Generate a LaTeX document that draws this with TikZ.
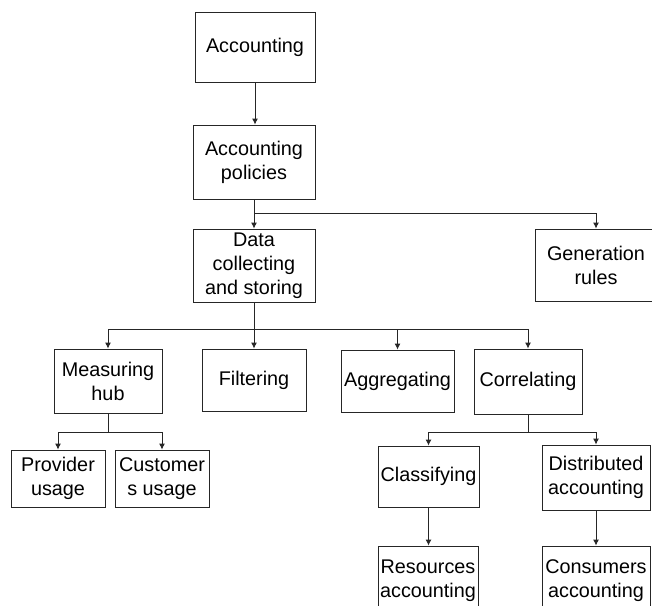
\documentclass[tikz,border=0pt]{standalone}
\usepackage{fontspec}
\setmainfont{Liberation Sans}
\usetikzlibrary{arrows.meta}
\begin{document}
\begin{tikzpicture}[x=1pt,y=-1pt,
  box/.style={draw=black!85, line width=0.9pt, fill=white, align=center, inner sep=1pt,
    font=\fontsize{19.8}{24}\selectfont},
  conn/.style={draw=black!85, line width=0.9pt},
  arr/.style={conn, -{Latex[length=6pt,width=6pt]}}]
\useasboundingbox (0,0) rectangle (652,605);
\clip (0,0) rectangle (652,605);
\fill[white] (0,0) rectangle (652,605);
% nodes
\node[box, minimum width=120pt, minimum height=70pt] (acc) at (255,47) {Accounting};
\node[box, minimum width=122pt, minimum height=74pt] (pol) at (254,162) {Accounting\\policies};
\node[box, minimum width=122pt, minimum height=73pt] (data) at (254,265.5) {Data\\collecting\\and storing};
\node[box, minimum width=122pt, minimum height=72pt] (gen) at (596,265) {Generation\\rules};
\node[box, minimum width=108pt, minimum height=64pt] (meas) at (108,381) {Measuring\\hub};
\node[box, minimum width=104pt, minimum height=62pt] (filt) at (254,380) {Filtering};
\node[box, minimum width=113pt, minimum height=62pt] (aggr) at (397.5,381) {Aggregating};
\node[box, minimum width=108pt, minimum height=65pt] (corr) at (528,381.5) {Correlating};
\node[box, minimum width=94pt, minimum height=57pt] (prov) at (58,478.5) {Provider\\usage};
\node[box, minimum width=94pt, minimum height=57pt] (cust) at (162,478.5) {Customer\\s usage};
\node[box, minimum width=101pt, minimum height=61pt] (class) at (428.5,476.5) {Classifying};
\node[box, minimum width=108pt, minimum height=65pt] (dist) at (596,477.5) {Distributed\\accounting};
\node[box, minimum width=100pt, minimum height=70pt] (res) at (428,581) {Resources\\accounting};
\node[box, minimum width=108pt, minimum height=70pt] (cons) at (596,581) {Consumers\\accounting};
% junctions
\coordinate (j1) at (254,213);
\coordinate (j2) at (254,329);
\coordinate (j3) at (108,432);
\coordinate (j4) at (528,432);
% connectors
\draw[arr] (acc.south) -- (acc.south |- pol.north);
\draw[conn] (pol.south) -- (j1);
\draw[arr] (j1) -- (data.north);
\draw[arr] (j1) -| (gen.north);
\draw[conn] (data.south) -- (j2);
\draw[arr] (j2) -- (filt.north);
\draw[arr] (j2) -| (meas.north);
\draw[arr] (j2) -| (aggr.north);
\draw[arr] (j2) -| (corr.north);
\draw[conn] (meas.south) -- (j3);
\draw[arr] (j3) -| (prov.north);
\draw[arr] (j3) -| (cust.north);
\draw[conn] (corr.south) -- (j4);
\draw[arr] (j4) -| (class.north);
\draw[arr] (j4) -| (dist.north);
\draw[arr] (class.south) -- (class.south |- res.north);
\draw[arr] (dist.south) -- (cons.north);
\end{tikzpicture}
\end{document}
